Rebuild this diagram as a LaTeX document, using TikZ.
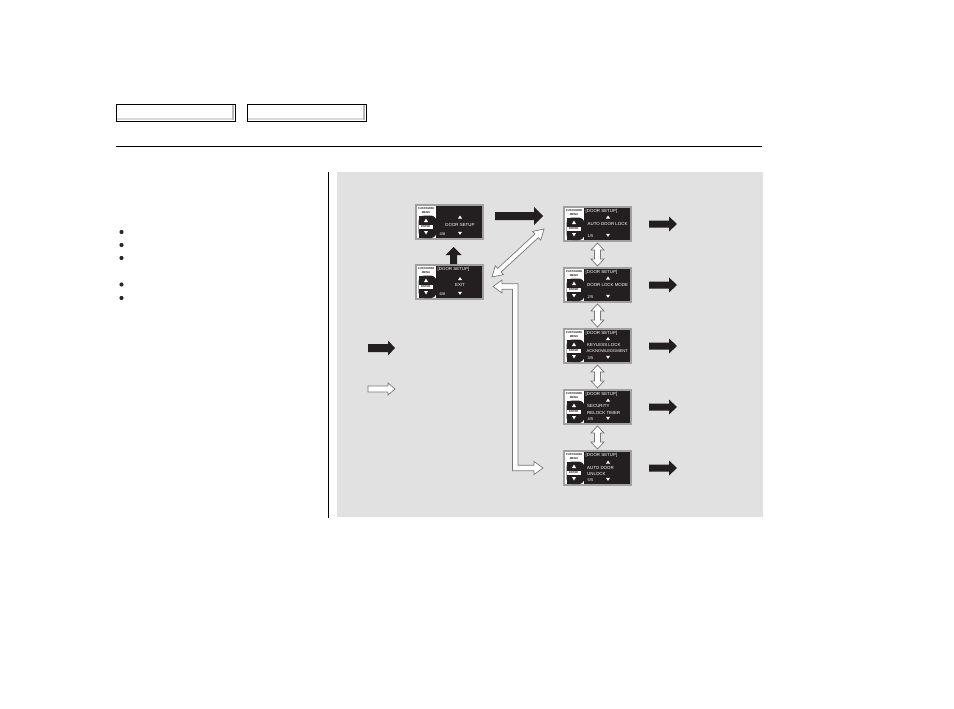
\documentclass[tikz,border=0pt]{standalone}
\usepackage{fontspec}
\setsansfont{Liberation Sans}
\usetikzlibrary{arrows.meta,calc}
\definecolor{panel}{RGB}{225,225,225}
\definecolor{ink}{RGB}{35,31,32}
\definecolor{lcdframe}{RGB}{160,160,160}
\definecolor{woutline}{RGB}{120,120,120}
\tikzset{
  lcdbox/.style={rectangle, inner sep=0pt, outer sep=0pt, minimum width=67pt, minimum height=34pt, fill=ink, draw=lcdframe, line width=1.8pt},
  lcdtxt/.style={text=white, font=\fontsize{4.4}{5}\selectfont\sffamily, inner sep=0pt},
  lcdsmall/.style={text=ink, font=\fontsize{2.8}{3}\selectfont\sffamily\bfseries, inner sep=0pt},
  blkfill/.style={fill=ink},
  wharrow/.style={fill=white, draw=woutline, line width=0.7pt, line join=miter},
  hdrbox/.style={rectangle, inner sep=0pt, outer sep=0pt, minimum width=119pt, minimum height=17pt, draw=black, line width=0.8pt, fill=white},
}
% screen frame: name, position, page
\newcommand\lcdframe[3]{%
  \node[lcdbox, anchor=north west] (#1) at (#2) {};
  \begin{scope}[shift={(#1.north west)}]
    \fill[white] (0.9,0.9) rectangle (19.5,33.1);
    \node[lcdsmall] at (10,3.6) {CUSTOMIZE};
    \node[lcdsmall] at (10,7.4) {MENU};
    \fill[ink, rounded corners=6pt] (2.5,10.5) rectangle (20.5,33.1);
    \fill[ink] (2.5,10.5) rectangle (10,33.1);
    \fill[white] (8,17) -- (12,17) -- (10,13.5) -- cycle;
    \fill[white] (2.5,19.5) rectangle (17,23.7);
    \node[lcdsmall] at (9.75,21.6) {ENTER};
    \fill[white] (8,26) -- (12,26) -- (10,29.5) -- cycle;
    \fill[white] (42,26.8) -- (46,26.8) -- (44,29.8) -- cycle;
    \node[lcdtxt, anchor=west, font=\fontsize{4}{4.5}\selectfont\sffamily] at (23.5,29.3) {#3};
  \end{scope}}
\newcommand\uptri[2]{\fill[white] (#1-2,#2+1.5) -- (#1+2,#2+1.5) -- (#1,#2-1.5) -- cycle;}
% horizontal single arrow: style, start, tip, shaft half, head half, head length
\newcommand\harrow[6]{\path[#1] let \p1=(#2), \p2=(#3) in
  (\x1,\y1+#4) -- (\x2-#6,\y1+#4) -- (\x2-#6,\y1+#5) -- (\x2,\y1) -- (\x2-#6,\y1-#5) -- (\x2-#6,\y1-#4) -- (\x1,\y1-#4) -- cycle;}
% upward single arrow: style, start (bottom), tip (top), shaft half, head half, head length
\newcommand\uarrow[6]{\path[#1] let \p1=(#2), \p2=(#3) in
  (\x1-#4,\y1) -- (\x1-#4,\y2-#6) -- (\x1-#5,\y2-#6) -- (\x1,\y2) -- (\x1+#5,\y2-#6) -- (\x1+#4,\y2-#6) -- (\x1+#4,\y1) -- cycle;}
% vertical double arrow between two tips (top, bottom)
\newcommand\vdbl[2]{\path[wharrow] let \p1=(#1), \p2=(#2) in
  (\x1,\y1) -- (\x1+6.5pt,\y1-7pt) -- (\x1+3pt,\y1-7pt) -- (\x1+3pt,\y2+7pt) -- (\x1+6.5pt,\y2+7pt) -- (\x1,\y2)
  -- (\x1-6.5pt,\y2+7pt) -- (\x1-3pt,\y2+7pt) -- (\x1-3pt,\y1-7pt) -- (\x1-6.5pt,\y1-7pt) -- cycle;}
\begin{document}
\begin{tikzpicture}[x=1pt, y=-1pt]
  \useasboundingbox (0,0) rectangle (954,709);
  \fill[white] (0,0) rectangle (954,709);

  % header boxes
  \node[hdrbox, anchor=north west] (h1) at (116,104) {};
  \node[hdrbox, anchor=north west] (h2) at (247,104) {};
  \foreach \h in {h1,h2}{
    \fill[gray!55] ($(\h.north east)+(-3,1.2)$) rectangle ($(\h.south east)+(-1,-1)$);
    \fill[gray!30] ($(\h.south west)+(1,-3)$) rectangle ($(\h.south east)+(-3,-1)$);
  }
  \draw[line width=1pt] (116,146) -- (762,146);

  % bullets
  \foreach \yy in {232,245,258,284.5,298}
    \fill[black!85] (121.5,\yy) circle (2.1);

  % divider and panel
  \draw[line width=0.9pt] (328,172) -- (328,518);
  \fill[panel] (337,172) rectangle (763,517);

  % screens
  \lcdframe{A}{416,205}{4/6}
  \begin{scope}[shift={(A.north west)}]
    \uptri{44}{12}
    \node[lcdtxt] at (44,19.5) {DOOR SETUP};
  \end{scope}

  \lcdframe{E}{416,265}{6/6}
  \begin{scope}[shift={(E.north west)}]
    \node[lcdtxt, anchor=west] at (21.5,4.2) {[DOOR SETUP]};
    \uptri{44}{13.5}
    \node[lcdtxt] at (44,19.5) {EXIT};
  \end{scope}

  \lcdframe{B1}{564,207}{1/5}
  \begin{scope}[shift={(B1.north west)}]
    \node[lcdtxt, anchor=west] at (21.5,4) {[DOOR SETUP]};
    \uptri{44}{10}
    \node[lcdtxt, anchor=west] at (23.5,17) {AUTO DOOR LOCK};
  \end{scope}

  \lcdframe{B2}{564,268}{2/5}
  \begin{scope}[shift={(B2.north west)}]
    \node[lcdtxt, anchor=west] at (21.5,4) {[DOOR SETUP]};
    \uptri{44}{10}
    \node[lcdtxt, anchor=west] at (23,17) {DOOR LOCK MODE};
  \end{scope}

  \lcdframe{B3}{564,329}{3/5}
  \begin{scope}[shift={(B3.north west)}]
    \node[lcdtxt, anchor=west] at (21.5,4) {[DOOR SETUP]};
    \uptri{44}{9.5}
    \node[lcdtxt, anchor=west] at (23,15.5) {KEYLESS LOCK};
    \node[lcdtxt, anchor=west, font=\fontsize{4.1}{5}\selectfont\sffamily] at (22.5,21.8) {ACKNOWLEDGMENT};
  \end{scope}

  \lcdframe{B4}{564,390}{4/5}
  \begin{scope}[shift={(B4.north west)}]
    \node[lcdtxt, anchor=west] at (21.5,4) {[DOOR SETUP]};
    \uptri{44}{10}
    \node[lcdtxt, anchor=west] at (23,16) {SECURITY};
    \node[lcdtxt, anchor=west] at (23,22.5) {RELOCK TIMER};
  \end{scope}

  \lcdframe{B5}{564,451}{5/5}
  \begin{scope}[shift={(B5.north west)}]
    \node[lcdtxt, anchor=west] at (21.5,4) {[DOOR SETUP]};
    \uptri{44}{11}
    \node[lcdtxt, anchor=west] at (23,17) {AUTO DOOR};
    \node[lcdtxt, anchor=west] at (23,23) {UNLOCK};
  \end{scope}

  % black arrows
  \harrow{blkfill}{$(A.east)+(12,-6)$}{$(B1.west)+(-21,-8)$}{4pt}{9pt}{9pt}
  \uarrow{blkfill}{$(E.north)+(4,-1)$}{$(A.south)+(4,8)$}{3.5pt}{8pt}{8pt}
  \foreach \b in {B1,B2,B3,B4,B5}{
    \coordinate (\b o) at ($(\b.east)+(46,0)$);
    \harrow{blkfill}{$(\b.east)+(18,0)$}{\b o}{3.5pt}{7.5pt}{8pt}
  }

  % white double arrows between right screens
  \vdbl{$(B1.south)+(0,2)$}{$(B2.north)+(0,-2)$}
  \vdbl{$(B2.south)+(0,2)$}{$(B3.north)+(0,-2)$}
  \vdbl{$(B3.south)+(0,2)$}{$(B4.north)+(0,-2)$}
  \vdbl{$(B4.south)+(0,2)$}{$(B5.north)+(0,-2)$}

  % diagonal white double arrow EXIT <-> B1
  \coordinate (dA) at ($(E.north east)+(9,12)$);
  \coordinate (dB) at ($(B1.west)+(-20,5)$);
  \begin{scope}[shift={(dA)}, rotate=42.7]
    \draw[wharrow] (0pt,0pt) -- (10pt,6pt) -- (10pt,2.5pt) -- (60.8pt,2.5pt) -- (60.8pt,6pt) -- (70.8pt,0pt)
      -- (60.8pt,-6pt) -- (60.8pt,-2.5pt) -- (10pt,-2.5pt) -- (10pt,-6pt) -- cycle;
  \end{scope}

  % L-shaped white arrow B5 <-> EXIT
  \path[wharrow] let \p1=($(E.east)+(10,4.5)$), \p2=($(B5.west)+(-21,0)$) in
    (\x1,\y1) -- (\x1+9pt,\y1+6.5pt) -- (\x1+9pt,\y1+2.75pt) -- (\x1+25pt,\y1+2.75pt) -- (\x1+25pt,\y2+2.75pt)
    -- (\x2-9pt,\y2+2.75pt) -- (\x2-9pt,\y2+6.5pt) -- (\x2,\y2) -- (\x2-9pt,\y2-6.5pt) -- (\x2-9pt,\y2-2.75pt)
    -- (\x1+19.5pt,\y2-2.75pt) -- (\x1+19.5pt,\y1-2.75pt) -- (\x1+9pt,\y1-2.75pt) -- (\x1+9pt,\y1-6.5pt) -- cycle;

  % legend
  \coordinate (lb1) at (368,348);
  \coordinate (lb2) at (395,348);
  \coordinate (lw1) at (368,389);
  \coordinate (lw2) at (395,389);
  \harrow{blkfill}{lb1}{lb2}{4pt}{7.5pt}{7pt}
  \harrow{wharrow}{lw1}{lw2}{3pt}{6pt}{7pt}
\end{tikzpicture}
\end{document}
